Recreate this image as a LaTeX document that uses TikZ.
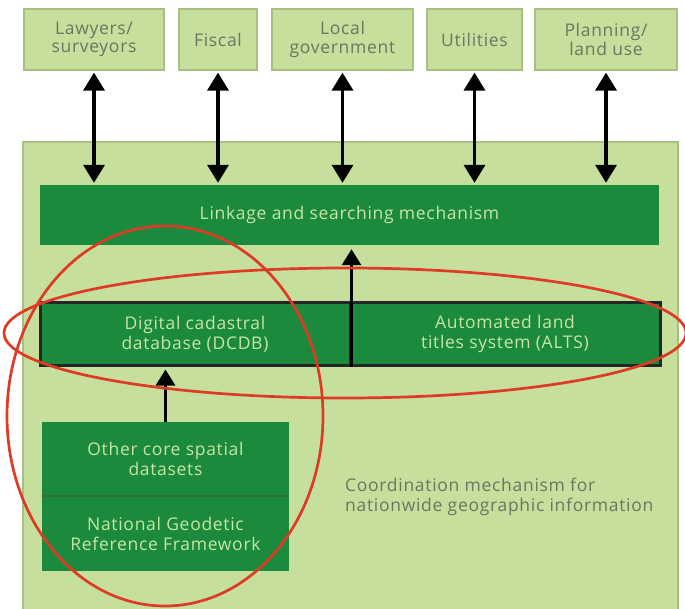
\documentclass[tikz,border=0pt]{standalone}
\usepackage{fontspec}
\setmainfont[LetterSpace=4]{Open Sans}
\usetikzlibrary{arrows.meta}
\definecolor{lightg}{HTML}{C6DF9C}
\definecolor{lightb}{HTML}{A7C081}
\definecolor{darkg}{HTML}{1B8A3C}
\definecolor{divg}{HTML}{2F6E3C}
\definecolor{paletxt}{HTML}{C8E6A4}
\definecolor{graytxt}{HTML}{6B7560}
\definecolor{redl}{HTML}{DD3B26}
\tikzset{
  topbox/.style={draw=lightb, line width=1.2pt, fill=lightg, text=graytxt, align=center, inner sep=0pt, minimum height=61pt, font=\fontsize{17.5}{18.5}\selectfont},
  framebox/.style={draw=lightb, line width=1.2pt, fill=lightg, inner sep=0pt},
  darkbox/.style={fill=darkg, text=paletxt, align=center, inner sep=0pt},
  dbbox/.style={darkbox, draw=black!85, line width=3pt},
  dblarr/.style={{Triangle[width=21pt,length=18pt]}-{Triangle[width=21pt,length=18pt]}, line width=3.5pt, shorten <=2pt, shorten >=2pt},
  uparr/.style={-{Triangle[width=19pt,length=16pt]}, line width=3pt},
  ring/.style={draw=redl, line width=2.7pt},
  notetxt/.style={text=graytxt, align=left, anchor=west, inner sep=0pt}
}
\begin{document}
\begin{tikzpicture}[x=1pt, y=-1pt, font=\fontsize{17.5}{20}\selectfont]
\useasboundingbox (0,0) rectangle (685,609);
% frame
\node[framebox, minimum width=655pt, minimum height=472pt] (frame) at (350.5,378) {};
% top boxes
\node[topbox, minimum width=140pt] (law) at (94,39.5) {Lawyers/\\surveyors};
\node[topbox, minimum width=78pt] (fis) at (218,39.5) {Fiscal};
\node[topbox, minimum width=141pt] (loc) at (342.5,39.5) {Local\\government};
\node[topbox, minimum width=95pt] (uti) at (474.5,39.5) {Utilities};
\node[topbox, minimum width=142pt] (pla) at (606,39.5) {Planning/\\land use};
% linkage
\node[darkbox, minimum width=619pt, minimum height=60pt] (link) at (349.5,215) {Linkage and searching mechanism};
% DCDB / ALTS
\node[dbbox, minimum width=310pt, minimum height=62pt] (dcdb) at (195,334) {Digital cadastral\\database (DCDB)};
\node[dbbox, minimum width=310pt, minimum height=62pt] (alts) at (505,334) {Automated land\\titles system (ALTS)};
% core datasets
\node[darkbox, minimum width=247pt, minimum height=74pt] (core) at (165.5,459) {Other core spatial\\datasets};
\node[darkbox, minimum width=247pt, minimum height=75pt] (ngrf) at (165.5,533.5) {National Geodetic\\Reference Framework};
\draw[divg, line width=2pt] (core.south west) -- (core.south east);
% arrows
\foreach \n in {law,fis,loc,uti,pla}
  \draw[dblarr] (\n.south) -- (\n.south |- link.north);
\draw[uparr, shorten >=4pt] (dcdb.south east) -- (dcdb.south east |- link.south);
\draw[uparr, shorten >=3pt] (core.north) -- (core.north |- dcdb.south);
% note
\node[notetxt] (note) at (345,497) {Coordination mechanism for\\nationwide geographic information};
% red rings
\draw[ring] (345,333) ellipse [x radius=341pt, y radius=65pt];
\draw[ring] (165,416) ellipse [x radius=158pt, y radius=190pt];
\end{tikzpicture}
\end{document}
